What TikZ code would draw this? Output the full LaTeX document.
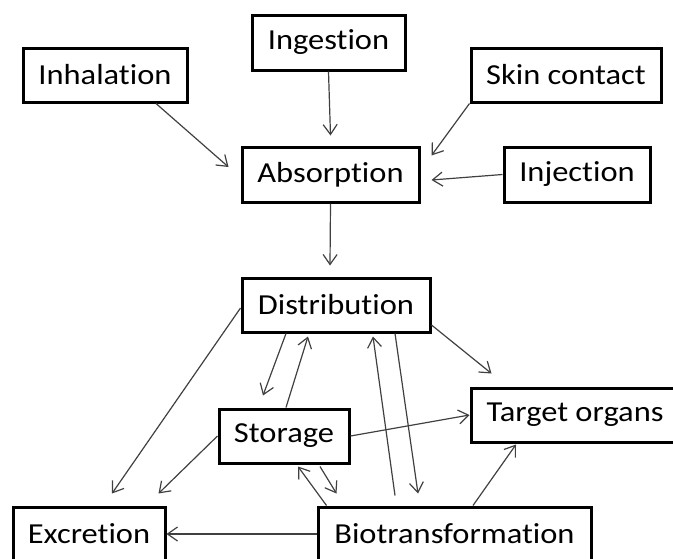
\documentclass[tikz,border=0pt]{standalone}
\usepackage{fontspec}
\setmainfont{Carlito}[FakeStretch=1.12, Ligatures={NoCommon,NoContextual}]
\usetikzlibrary{arrows.meta}

\begin{document}
\begin{tikzpicture}[x=1pt, y=-1pt,
    box/.style={draw, line width=3pt, inner sep=0pt, align=center,
        font=\fontsize{29}{31}\selectfont},
    flow/.style={draw=black!75, line width=1.2pt,
        -{Straight Barb[length=10pt,width=14pt]}}]
    \useasboundingbox (0,0) rectangle (673,558);

    % routes of exposure
    \node[box, minimum width=164, minimum height=54] (inh) at (105,75) {Inhalation};
    \node[box, minimum width=153, minimum height=55] (ing) at (328.5,42.5) {Ingestion};
    \node[box, minimum width=190, minimum height=54] (skin) at (566,75) {Skin contact};
    \node[box, minimum width=146, minimum height=55] (inj) at (577,174.5) {Injection};
    \node[box, minimum width=177, minimum height=55] (abs) at (330.5,174.5) {Absorption};

    % fate in the body
    \node[box, minimum width=188, minimum height=54] (dist) at (336,305) {Distribution};
    \node[box, minimum width=130, minimum height=54] (stor) at (284,436) {Storage};
    \node[box, minimum width=208, minimum height=54] (targ) at (575,415) {Target organs};
    \node[box, minimum width=152, minimum height=54] (excr) at (89,534) {Excretion};
    \node[box, minimum width=273, minimum height=54] (bio) at (454.5,534) {Biotransformation};

    % into absorption
    \draw[flow] ([xshift=51pt]inh.south) -- ([xshift=-12pt,yshift=7.5pt]abs.west);
    \draw[flow] (ing.south) -- ([yshift=10pt]abs.north);
    \draw[flow] (skin.south west) -- ([xshift=11pt,yshift=-10pt]abs.north east);
    \draw[flow] (inj.west) -- ([xshift=11pt,yshift=-5.5pt]abs.east);
    \draw[flow] (abs.south) -- ([xshift=-6pt,yshift=11pt]dist.north);

    % distribution
    \draw[flow] ([yshift=-3pt]dist.west) -- ([xshift=23pt,yshift=12pt]excr.north);
    \draw[flow] ([xshift=-50pt]dist.south) -- ([xshift=-21pt,yshift=12pt]stor.north);
    \draw[flow] ([xshift=2pt]stor.north) -- ([xshift=-28pt,yshift=-3pt]dist.south);
    \draw[flow] ([yshift=-20pt]dist.east) -- ([xshift=22pt,yshift=13pt]targ.north west);
    \draw[flow] ([xshift=-59.5pt,yshift=10pt]bio.north) -- ([xshift=37pt,yshift=-3pt]dist.south);
    \draw[flow] ([xshift=59pt]dist.south) -- ([xshift=-36.5pt,yshift=12pt]bio.north);

    % storage
    \draw[flow] (stor.west) -- ([xshift=-8pt,yshift=12pt]excr.north east);
    \draw[flow] ([xshift=10pt]bio.north west) -- ([xshift=14pt,yshift=-2pt]stor.south);
    \draw[flow] ([xshift=36pt,yshift=-2pt]stor.south) -- ([xshift=20pt,yshift=12pt]bio.north west);
    \draw[flow] (stor.east) -- (targ.west);

    % biotransformation
    \draw[flow] (bio.west) -- (excr.east);
    \draw[flow] ([xshift=18.5pt]bio.north) -- ([xshift=-59pt,yshift=-1pt]targ.south);
\end{tikzpicture}
\end{document}
